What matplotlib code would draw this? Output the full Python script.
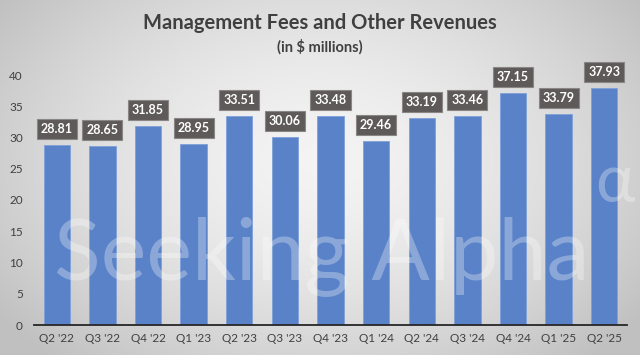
import numpy as np
import matplotlib
matplotlib.use("Agg")
import matplotlib.pyplot as plt

categories = ["Q2 '22", "Q3 '22", "Q4 '22", "Q1 '23", "Q2 '23", "Q3 '23", "Q4 '23",
              "Q1 '24", "Q2 '24", "Q3 '24", "Q4 '24", "Q1 '25", "Q2 '25"]
values = [28.81, 28.65, 31.85, 28.95, 33.51, 30.06, 33.48,
          29.46, 33.19, 33.46, 37.15, 33.79, 37.93]
yticks = [0, 5, 10, 15, 20, 25, 30, 35, 40]

plt.rcParams['font.family'] = ['Lato', 'DejaVu Sans']

W, H = 640, 355
fig = plt.figure(figsize=(W / 100, H / 100), dpi=100)

# radial gradient background
bg = fig.add_axes([0, 0, 1, 1])
yy, xx = np.mgrid[0:H, 0:W]
cx, cy = W * 0.5, H * 0.45
r = np.sqrt(((xx - cx) / (W * 0.62)) ** 2 + ((yy - cy) / (H * 0.75)) ** 2)
r = np.clip(r, 0, 1)
c = 0.955 - 0.2 * r ** 1.6
bg.imshow(np.dstack([c, c, c]), aspect='auto', extent=[0, 1, 0, 1], origin='upper')
bg.set_axis_off()

ax = fig.add_axes([34 / W, 30 / H, (627 - 34) / W, (325 - 75) / H])
ax.patch.set_alpha(0)
x = np.arange(len(categories))
ax.bar(x, values, width=0.58, color='#5A82C8', edgecolor='#7EA0DA', linewidth=0.6, zorder=2)
ax.set_xlim(-0.5, len(categories) - 0.5)
ax.set_ylim(0, 40)
ax.set_yticks(yticks)
ax.set_xticks(x)
ax.set_xticklabels(categories)
ax.tick_params(axis='both', length=0, labelsize=8.5, colors='#404040')
ax.tick_params(axis='y', pad=8)
ax.tick_params(axis='x', pad=6)
for s in ['top', 'right', 'left']:
    ax.spines[s].set_visible(False)
ax.spines['bottom'].set_color('#262626')
ax.spines['bottom'].set_linewidth(1.3)
ax.spines['bottom'].set_bounds(-0.5, len(categories) - 0.5)
ax.set_yticklabels([str(t) for t in yticks])

for xi, v in zip(x, values):
    ax.annotate(f"{v:.2f}", (xi, v), xytext=(0, 11.5), textcoords='offset points',
                ha='center', va='center', color='white', fontsize=9, fontweight='bold',
                bbox=dict(boxstyle='square,pad=0.32', fc='#5E5A5A', ec='#8A8686', lw=0.8),
                annotation_clip=False, zorder=4)

# watermark
fig.text(0.085, 0.215, "Seeking Alpha", fontsize=62, color='white', alpha=0.3,
         ha='left', va='baseline', zorder=5)
fig.text(0.93, 0.43, "α", fontsize=48, color='white', alpha=0.3,
         ha='left', va='baseline', zorder=5)

fig.text(0.5, 1 - 23 / H, "Management Fees and Other Revenues", ha='center', va='center',
         fontsize=14.5, fontweight='bold', color='#404040')
fig.text(0.5, 1 - 47 / H, "(in $ millions)", ha='center', va='center',
         fontsize=10.5, fontweight='bold', color='#404040')

fig.savefig("out.png", dpi=100)
